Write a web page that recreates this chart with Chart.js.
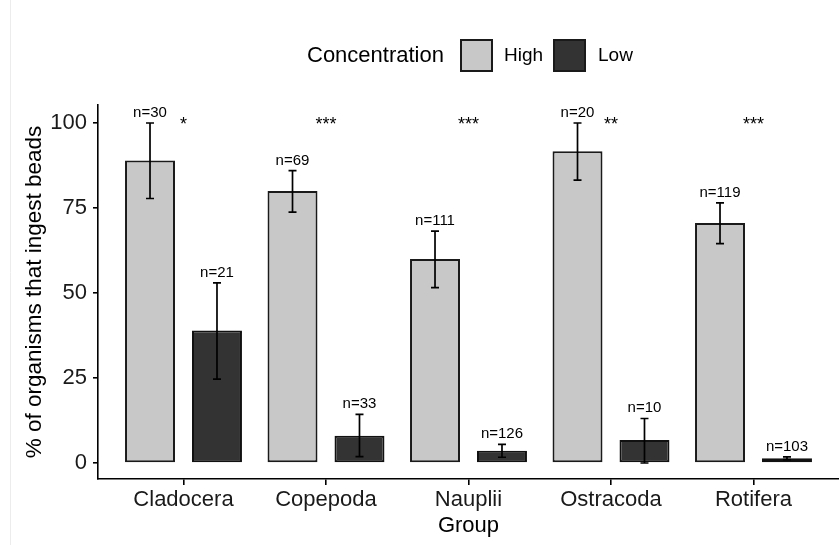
<!DOCTYPE html>
<html>
<head>
<meta charset="utf-8">
<script src="https://cdn.jsdelivr.net/npm/chart.js@4.4.0/dist/chart.umd.min.js"></script>
<style>
  body { margin: 0; background: #fff; }
  .canvas-container { width: 839px; height: 545px; position: relative; }
</style>
</head>
<body>
<div class="canvas-container"><canvas id="myChart"></canvas></div>
<script>
//chart data
const groups = ["Cladocera", "Copepoda", "Nauplii", "Ostracoda", "Rotifera"];
const highValues = [89, 80, 60, 91.7, 70.6];
const highLower = [77.8, 73.8, 51.6, 83.2, 64.5];
const highUpper = [100, 86, 68.2, 100, 76.5];
const highN = [30, 69, 111, 20, 119];
const lowValues = [39, 8, 3.6, 6.8, 1.4];
const lowLower = [24.7, 1.9, 1.7, 0, 1.0];
const lowUpper = [53, 14.3, 5.5, 13.1, 1.8];
const lowN = [21, 33, 126, 10, 103];
const stars = ["*", "***", "***", "**", "***"];
const yTicks = [0, 25, 50, 75, 100];

const fontFamily = "'Liberation Sans', Arial, Helvetica, sans-serif";

//extra info per dataset for the plugin
const extras = [
  { lower: highLower, upper: highUpper, n: highN },
  { lower: lowLower, upper: lowUpper, n: lowN },
];

//error bars, n labels, stars and the legend
const annotate = {
  id: "annotate",
  afterDatasetsDraw(chart) {
    const ctx = chart.ctx;
    const y = chart.scales.y;
    const x = chart.scales.x;
    ctx.save();

    chart.data.datasets.forEach((ds, di) => {
      const meta = chart.getDatasetMeta(di);
      const ex = extras[di];
      meta.data.forEach((bar, i) => {
        const top = y.getPixelForValue(ex.upper[i]);
        const bottom = y.getPixelForValue(ex.lower[i]);
        ctx.strokeStyle = "#000";
        ctx.lineWidth = 1.7;
        ctx.beginPath();
        ctx.moveTo(bar.x, top);
        ctx.lineTo(bar.x, bottom);
        ctx.moveTo(bar.x - 4, top);
        ctx.lineTo(bar.x + 4, top);
        ctx.moveTo(bar.x - 4, bottom);
        ctx.lineTo(bar.x + 4, bottom);
        ctx.stroke();

        ctx.fillStyle = "#000";
        ctx.font = "15px " + fontFamily;
        ctx.textAlign = "center";
        ctx.textBaseline = "alphabetic";
        ctx.fillText("n=" + ex.n[i], bar.x, top - 6);
      });
    });

    //significance stars
    ctx.font = "18px " + fontFamily;
    ctx.textAlign = "center";
    ctx.textBaseline = "alphabetic";
    stars.forEach((s, i) => {
      ctx.fillText(s, x.getPixelForValue(i + 1), y.getPixelForValue(101) + 10);
    });

    //legend
    ctx.textBaseline = "middle";
    ctx.textAlign = "left";
    ctx.font = "22px " + fontFamily;
    ctx.fillText("Concentration", 307, 56);
    const boxX = [461, 554];
    const textX = [504, 598];
    ctx.font = "19px " + fontFamily;
    chart.data.datasets.forEach((ds, di) => {
      ctx.fillStyle = ds.backgroundColor;
      ctx.fillRect(boxX[di], 40, 31, 31);
      ctx.strokeStyle = "#1a1a1a";
      ctx.lineWidth = 2;
      ctx.strokeRect(boxX[di], 40, 31, 31);
      ctx.fillStyle = "#000";
      ctx.fillText(ds.label, textX[di], 56);
    });

    //faint frame line of the original screenshot
    ctx.strokeStyle = "#ececec";
    ctx.lineWidth = 1;
    ctx.beginPath();
    ctx.moveTo(10.5, 0);
    ctx.lineTo(10.5, 545);
    ctx.stroke();

    ctx.restore();
  },
};

const data = {
  datasets: [
    {
      label: "High",
      backgroundColor: "#c8c8c8",
      borderColor: "#1a1a1a",
      borderWidth: 2,
      borderSkipped: false,
      data: highValues.map((v, i) => ({ x: i + 1, y: v })),
    },
    {
      label: "Low",
      backgroundColor: "#333333",
      borderColor: "#111111",
      borderWidth: 2,
      borderSkipped: false,
      data: lowValues.map((v, i) => ({ x: i + 1, y: v })),
    },
  ],
};

const config = {
  type: "bar",
  data: data,
  plugins: [annotate],
  options: {
    maintainAspectRatio: false,
    animation: false,
    devicePixelRatio: 1,
    categoryPercentage: 0.94,
    barPercentage: 0.746,
    layout: { padding: { top: 105, left: 0, right: 0, bottom: 0 } },
    plugins: {
      legend: { display: false },
      tooltip: { enabled: false },
    },
    scales: {
      x: {
        type: "linear",
        min: 0.4,
        max: 5.6,
        offset: false,
        afterBuildTicks: (scale) => {
          scale.ticks = groups.map((g, i) => ({ value: i + 1 }));
        },
        afterFit: (scale) => {
          scale.height = 66;
        },
        ticks: {
          callback: (v) => groups[v - 1],
          font: { family: fontFamily, size: 22 },
          color: "#1a1a1a",
          padding: 2,
          maxRotation: 0,
          autoSkip: false,
        },
        grid: { offset: false, drawOnChartArea: false, drawTicks: true, tickLength: 6, color: "#000", lineWidth: 1.6 },
        border: { display: true, color: "#000", width: 1.6 },
        title: {
          display: true,
          text: "Group",
          font: { family: fontFamily, size: 22 },
          color: "#000",
          padding: { top: 0, bottom: 6 },
        },
      },
      y: {
        min: -4.7,
        max: 105.3,
        afterBuildTicks: (scale) => {
          scale.ticks = yTicks.map((v) => ({ value: v }));
        },
        afterFit: (scale) => {
          scale.width = 98;
        },
        ticks: {
          font: { family: fontFamily, size: 22 },
          color: "#1a1a1a",
          padding: 6,
        },
        grid: { drawOnChartArea: false, drawTicks: true, tickLength: 5, color: "#000", lineWidth: 1.6 },
        border: { display: true, color: "#000", width: 1.6 },
        title: {
          display: true,
          text: "% of organisms that ingest beads",
          font: { family: fontFamily, size: 22.5 },
          color: "#000",
          padding: { top: 21, bottom: 0 },
        },
      },
    },
  },
};

const myChart = new Chart(document.getElementById("myChart"), config);
</script>
</body>
</html>
